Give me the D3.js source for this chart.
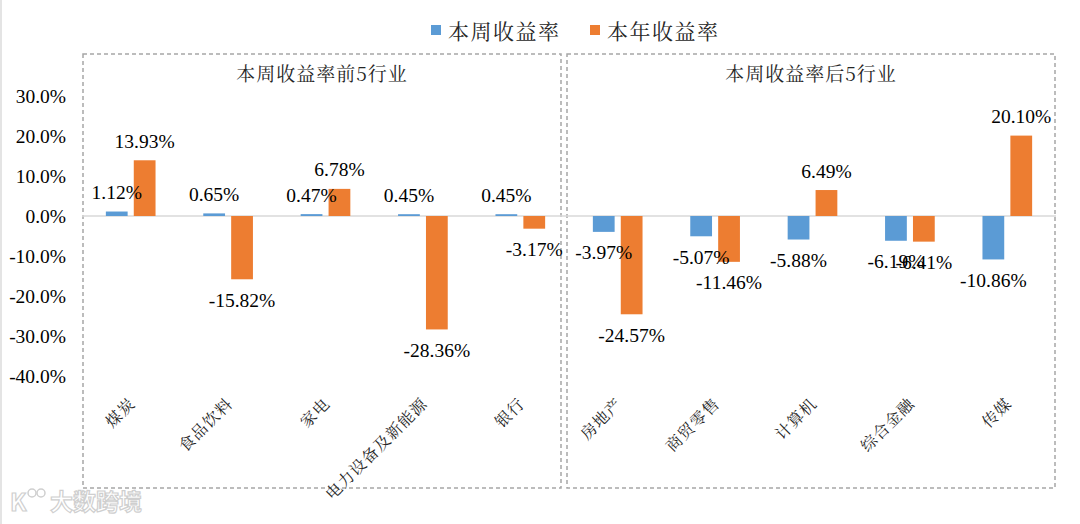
<!DOCTYPE html>
<html>
<head>
<meta charset="utf-8">
<script src="https://cdn.jsdelivr.net/npm/d3@7"></script>
<style>
    html, body { margin: 0; padding: 0; background: #fff; }
    svg { display: block; }
</style>
</head>
<body>
<div class="graph-bg"></div>
<script>
// 数据
var categories = ['煤炭', '食品饮料', '家电', '电力设备及新能源', '银行', '房地产', '商贸零售', '计算机', '综合金融', '传媒'];
var seriesNames = ['本周收益率', '本年收益率'];
var weekReturn = [1.12, 0.65, 0.47, 0.45, 0.45, -3.97, -5.07, -5.88, -6.19, -10.86];
var yearReturn = [13.93, -15.82, 6.78, -28.36, -3.17, -24.57, -11.46, 6.49, -6.41, 20.10];
var yTicks = [30, 20, 10, 0, -10, -20, -30, -40];
var panelTitles = ['本周收益率前5行业', '本周收益率后5行业'];

var w = 1080;
var h = 524;
var color = ['#5B9BD5', '#ED7D31'];
var numFont = 'Liberation Serif';
var cnFont = '"Noto Serif CJK SC", "Noto Sans CJK SC", sans-serif';

drawChart();

function drawChart() {
    var svg = d3.select('.graph-bg').append('svg').attr('width', w).attr('height', h);

    // 左边的细灰边
    svg.append('rect').attr('x', 0).attr('y', 0).attr('width', 2).attr('height', h).attr('fill', '#e4e4e4');

    var x0 = d3.scaleBand().domain(categories).range([82, 1056]).paddingInner(0.49).paddingOuter(0.245);
    var x1 = d3.scaleBand().domain(seriesNames).range([0, x0.bandwidth()]).paddingInner(0.22);
    var y = d3.scaleLinear().domain([-40, 30]).range([376, 96]);

    // 两个虚线框
    var boxes = [[83, 561], [567, 1055]];
    boxes.forEach(function (b, i) {
        svg.append('rect').attr('x', b[0]).attr('y', 54).attr('width', b[1] - b[0]).attr('height', 434)
            .attr('fill', 'none').attr('stroke', '#A6A6A6').attr('stroke-width', 1.5).attr('stroke-dasharray', '4,3');
        svg.append('text').attr('x', (b[0] + b[1]) / 2).attr('y', 72)
            .attr('text-anchor', 'middle').attr('dominant-baseline', 'central')
            .attr('font-family', cnFont).attr('font-size', 19).style('letter-spacing', '1px')
            .attr('fill', '#262626').text(panelTitles[i]);
    });

    // y轴
    var yAxis = d3.axisLeft(y).tickValues(yTicks).tickSize(0).tickPadding(0)
        .tickFormat(function (d) { return d.toFixed(1) + '%'; });
    var ga = svg.append('g').attr('transform', 'translate(66,0)').call(yAxis);
    ga.select('.domain').remove();
    ga.attr('font-family', numFont).attr('font-size', 19.5);
    ga.selectAll('text').attr('fill', '#000');

    // 零线
    svg.append('line').attr('x1', 82).attr('x2', 1056).attr('y1', y(0)).attr('y2', y(0))
        .attr('stroke', '#D9D9D9').attr('stroke-width', 1.5);

    var rows = categories.map(function (c, i) {
        return {key: c, values: [weekReturn[i], yearReturn[i]]};
    });

    var groups = svg.selectAll('.grp').data(rows).enter().append('g')
        .attr('class', 'grp').attr('transform', function (d) { return 'translate(' + x0(d.key) + ',0)'; });

    groups.selectAll('rect').data(function (d) {
        return d.values.map(function (v, j) { return {s: seriesNames[j], v: v, j: j}; });
    }).enter().append('rect')
        .attr('x', function (d) { return x1(d.s); })
        .attr('width', x1.bandwidth())
        .attr('y', function (d) { return y(Math.max(0, d.v)); })
        .attr('height', function (d) { return Math.abs(y(d.v) - y(0)); })
        .attr('fill', function (d) { return color[d.j]; });

    groups.selectAll('text').data(function (d) {
        return d.values.map(function (v, j) { return {s: seriesNames[j], v: v, j: j}; });
    }).enter().append('text')
        .attr('x', function (d) { return x1(d.s) + x1.bandwidth() / 2; })
        .attr('y', function (d) { return d.v >= 0 ? y(d.v) - 19 : y(d.v) + 21; })
        .attr('text-anchor', 'middle').attr('dominant-baseline', 'central')
        .attr('font-family', numFont).attr('font-size', 19.5).attr('fill', '#000')
        .text(function (d) { return d.v.toFixed(2) + '%'; });

    // 类别标签 (斜45度)
    svg.selectAll('.cat').data(categories).enter().append('text')
        .attr('class', 'cat')
        .attr('transform', function (d) {
            return 'translate(' + (x0(d) + x0.bandwidth() / 2 + 1) + ',400) rotate(-45)';
        })
        .attr('text-anchor', 'end').attr('dominant-baseline', 'central')
        .attr('font-family', cnFont).attr('font-size', 16).style('letter-spacing', '1px')
        .attr('fill', '#262626').text(function (d) { return d; });

    // 图例
    var legX = [431, 590];
    seriesNames.forEach(function (s, i) {
        svg.append('rect').attr('x', legX[i]).attr('y', 25).attr('width', 10).attr('height', 10).attr('fill', color[i]);
        svg.append('text').attr('x', legX[i] + 17).attr('y', 30)
            .attr('dominant-baseline', 'central').attr('font-family', cnFont)
            .attr('font-size', 21).style('letter-spacing', '1.5px').attr('fill', '#262626').text(s);
    });

    // 水印
    var wm = svg.append('g').attr('transform', 'translate(10,500)');
    wm.append('text').attr('x', 0).attr('y', 0).attr('dominant-baseline', 'central')
        .attr('font-family', 'Noto Sans CJK SC').attr('font-size', 24).attr('font-weight', 'bold')
        .attr('fill', '#fff').attr('stroke', '#cfcfcf').attr('stroke-width', 1.2).text('K');
    wm.append('circle').attr('cx', 22).attr('cy', -7).attr('r', 4).attr('fill', 'none').attr('stroke', '#cfcfcf').attr('stroke-width', 1.5);
    wm.append('circle').attr('cx', 31).attr('cy', -7).attr('r', 4).attr('fill', 'none').attr('stroke', '#cfcfcf').attr('stroke-width', 1.5);
    wm.append('text').attr('x', 40).attr('y', 0).attr('dominant-baseline', 'central')
        .attr('font-family', 'Noto Sans CJK SC').attr('font-size', 23).attr('font-weight', 'bold')
        .attr('fill', '#fff').attr('stroke', '#cfcfcf').attr('stroke-width', 1.2).text('大数跨境');
}
</script>
</body>
</html>
